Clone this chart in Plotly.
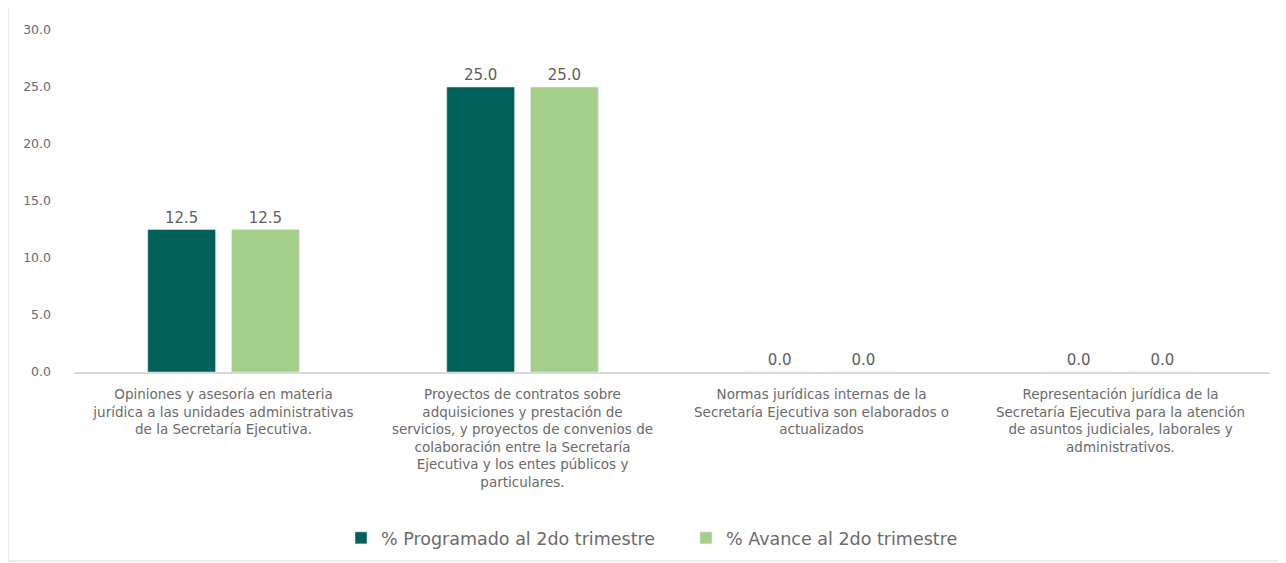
import plotly.graph_objects as go

categories = [
    "Opiniones y asesoría en materia<br>jurídica a las unidades administrativas<br>de la Secretaría Ejecutiva.",
    "Proyectos de contratos sobre<br>adquisiciones y prestación de<br>servicios, y proyectos de convenios de<br>colaboración entre la Secretaría<br>Ejecutiva y los entes públicos y<br>particulares.",
    "Normas jurídicas internas de la<br>Secretaría Ejecutiva son elaborados o<br>actualizados",
    "Representación jurídica de la<br>Secretaría Ejecutiva para la atención<br>de asuntos judiciales, laborales y<br>administrativos.",
]
programado = [12.5, 25.0, 0.0, 0.0]
avance = [12.5, 25.0, 0.0, 0.0]
series_names = ["% Programado al 2do trimestre", "% Avance al 2do trimestre"]
colors = ["#00605A", "#A4CF8A"]

FONT = "DejaVu Sans"
W, H = 1286, 563
OFF = 8  # page body offset
ml, mr, mt, mb = 74 - OFF, 24, 30 - OFF, 199

fig = go.Figure()
for name, vals, c in zip(series_names, [programado, avance], colors):
    fig.add_trace(go.Bar(
        x=categories, y=vals, name=name, marker_color=c,
        text=[f"{v:.1f}" for v in vals], textposition="outside",
        textfont=dict(size=15, color="#606060", family=FONT),
        cliponaxis=False,
    ))

pw, ph = W - ml - mr, H - mt - mb
def px(x):
    return (x - OFF - ml) / pw
def py(y):
    return (H - mb - (y - OFF)) / ph

fig.update_layout(
    width=W, height=H,
    margin=dict(l=ml, r=mr, t=mt, b=mb),
    paper_bgcolor="white", plot_bgcolor="white",
    barmode="group", bargap=0.44, bargroupgap=0.19,
    font=dict(family=FONT, color="#6A6A6A", size=12),
    showlegend=True,
    legend=dict(orientation="h", x=px(686), xanchor="center", y=py(538), yanchor="middle",
                font=dict(size=17.5, color="#6A6A6A"), itemwidth=30, traceorder="normal",
                entrywidth=300, entrywidthmode="pixels"),
    yaxis=dict(range=[0, 30], dtick=5, tickformat=".1f", showgrid=False, zeroline=False,
               showline=False, ticklabelstandoff=22, tickfont=dict(size=12.5, color="#6A6A6A")),
    xaxis=dict(showline=True, linecolor="#D9D9D9", linewidth=1.5, showgrid=False,
               ticklabelstandoff=9,
               tickfont=dict(size=13.5, color="#6A6A6A"), tickangle=0),
    shapes=[dict(type="rect", xref="paper", yref="paper",
                 x0=px(8), x1=px(1284), y0=py(561), y1=py(7),
                 line=dict(color="#D9D9D9", width=1), layer="below")],
)
fig.write_html("out.html")
